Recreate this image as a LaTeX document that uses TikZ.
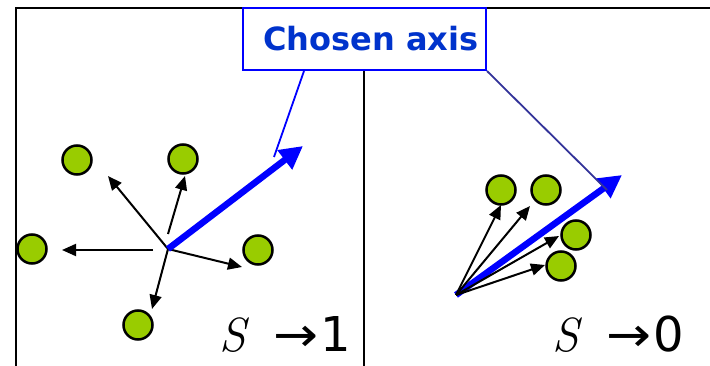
\documentclass[tikz,border=0pt]{standalone}
\usepackage{fontspec}
\usepackage{graphicx}
\newfontfamily\dvs{DejaVu Sans}
\usetikzlibrary{arrows.meta}
\definecolor{dotgreen}{RGB}{153,204,0}
\definecolor{labelblue}{RGB}{0,51,204}
\definecolor{slateline}{RGB}{51,51,153}
\newcommand{\widearrow}{\scalebox{1.12}[1]{→}}
\tikzset{
  frameline/.style={line width=2.8pt, black},
  dot/.style={circle, draw=black, line width=2.5pt, fill=dotgreen, minimum size=29pt, inner sep=0pt},
  vec/.style={line width=2pt, -{Triangle[length=14pt,width=12pt]}},
  axisvec/.style={line width=6.5pt, blue, -{Triangle[length=23pt,width=23pt]}},
  callout/.style={line width=1.8pt},
  bigtext/.style={inner sep=0pt, font=\fontsize{48}{52}\selectfont},
  arrowtext/.style={inner sep=0pt, font=\dvs\fontsize{48}{52}\selectfont},
}
\begin{document}
\begin{tikzpicture}[x=1pt,y=-1pt]
\useasboundingbox (0,0) rectangle (710,366);
% frame
\coordinate (ftl) at (16,8);
\coordinate (ftr) at (710,8);
\coordinate (fbl) at (16,366);
\coordinate (mtop) at (364,70);
\coordinate (mbot) at (364,366);
\draw[frameline] (fbl) -- (ftl) -- (ftr);
\draw[frameline] (mtop) -- (mbot);
% cut-off text at the left edge
\node[arrowtext, anchor=base east] (cut) at (4,340) {)};

% ---------- left panel ----------
\coordinate (c1) at (168,249);
\coordinate (c1b) at (168,234);
\coordinate (c1c) at (153,250);
\coordinate (t1) at (108,176);
\coordinate (t2) at (185,176);
\coordinate (t3) at (62,250);
\coordinate (t4) at (242,267);
\coordinate (t5) at (152,309);
\coordinate (a1) at (303,146);
\draw[vec] (c1) -- (t1);
\draw[vec] (c1b) -- (t2);
\draw[vec] (c1c) -- (t3);
\draw[vec] (c1) -- (t4);
\draw[vec] (c1) -- (t5);
\draw[axisvec] (c1) -- (a1);
\node[dot] (l1) at (77,160) {};
\node[dot] (l2) at (183,159) {};
\node[dot] (l3) at (32,249) {};
\node[dot] (l4) at (258,250) {};
\node[dot] (l5) at (138,325) {};
\node[bigtext, anchor=base west] (s1) at (219,351) {\itshape S};
\node[arrowtext, anchor=base west] (v1) at (273,352) {\widearrow\hspace{2pt}1};

% ---------- right panel ----------
\coordinate (c2) at (456,295);
\coordinate (u1) at (501,205);
\coordinate (u2) at (530,206);
\coordinate (u3) at (559,236);
\coordinate (u4) at (545,265);
\coordinate (a2) at (622,175);
\draw[axisvec] (c2) -- (a2);
\draw[vec] (c2) -- (u1);
\draw[vec] (c2) -- (u2);
\draw[vec] (c2) -- (u3);
\draw[vec] (c2) -- (u4);
\node[dot] (r1) at (501,190) {};
\node[dot] (r2) at (546,190) {};
\node[dot] (r3) at (576,235) {};
\node[dot] (r4) at (561,266) {};
\node[bigtext, anchor=base west] (s2) at (552,351) {\itshape S};
\node[arrowtext, anchor=base west] (v2) at (606,352) {\widearrow\hspace{2pt}0};

% ---------- callout ----------
\node[draw=blue, line width=2pt, fill=white, minimum width=243pt, minimum height=62pt,
      inner sep=0pt, text=labelblue, font=\dvs\bfseries\fontsize{32}{36}\selectfont]
      (box) at (364.5,39) {\hspace{13pt}Chosen axis};
\coordinate (p1) at (274,157);
\coordinate (p2) at (607,190);
\draw[callout, blue] (box.south -| 304,0) -- (p1);
\draw[callout, slateline] (box.south east) -- (p2);
\end{tikzpicture}
\end{document}
